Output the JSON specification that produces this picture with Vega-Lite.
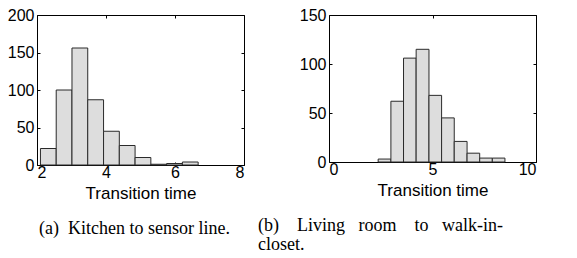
{
  "$schema": "https://vega.github.io/schema/vega-lite/v6.json",
  "background": "white",
  "padding": {"left": 6, "top": 6, "right": 0, "bottom": 0},
  "spacing": 12,
  "config": {
    "view": {"stroke": "black", "strokeWidth": 1},
    "axis": {
      "labelFont": "Liberation Sans",
      "labelFontSize": 16,
      "labelColor": "black",
      "titleFont": "Liberation Sans",
      "titleFontSize": 17,
      "titleFontWeight": "normal",
      "titleColor": "black",
      "domain": false,
      "grid": false,
      "tickColor": "black",
      "tickSize": -3
    },
    "axisX": {"labelPadding": 2},
    "axisY": {"labelPadding": 6},
    "title": {
      "font": "Liberation Serif",
      "fontSize": 18,
      "fontWeight": "normal",
      "color": "black",
      "anchor": "start",
      "frame": "group",
      "orient": "bottom",
      "baseline": "top",
      "lineHeight": 19
    }
  },
  "hconcat": [
    {
      "width": 207,
      "height": 150,
      "title": {"text": "(a)\u00a0 Kitchen to sensor line.", "offset": 19, "dx": 2},
      "data": {"values": [
        {"start": 2.1, "end": 2.557, "count": 22},
        {"start": 2.557, "end": 3.014, "count": 100},
        {"start": 3.014, "end": 3.471, "count": 156},
        {"start": 3.471, "end": 3.929, "count": 87},
        {"start": 3.929, "end": 4.386, "count": 45},
        {"start": 4.386, "end": 4.843, "count": 26},
        {"start": 4.843, "end": 5.3, "count": 10},
        {"start": 5.3, "end": 5.757, "count": 1},
        {"start": 5.757, "end": 6.214, "count": 2},
        {"start": 6.214, "end": 6.671, "count": 4}
      ]},
      "resolve": {"axis": {"x": "independent", "y": "independent"}},
      "layer": [
        {
          "mark": {"type": "bar", "fill": "#dddddd", "stroke": "#2a2a2a", "strokeWidth": 1},
          "encoding": {
            "x": {"field": "start", "type": "quantitative", "scale": {"domain": [2, 8], "nice": false},
                  "axis": {"orient": "bottom", "values": [2, 4, 6, 8], "title": "Transition time", "titlePadding": 5}},
            "x2": {"field": "end"},
            "y": {"field": "count", "type": "quantitative", "scale": {"domain": [0, 200], "nice": false},
                  "axis": {"orient": "left", "values": [0, 50, 100, 150, 200], "title": null}},
            "y2": {"datum": 0}
          }
        },
        {
          "mark": {"type": "bar", "opacity": 0},
          "encoding": {
            "x": {"field": "start", "type": "quantitative",
                  "axis": {"orient": "top", "values": [2, 4, 6, 8], "labels": false, "title": null}},
            "x2": {"field": "end"},
            "y": {"field": "count", "type": "quantitative",
                  "axis": {"orient": "right", "values": [0, 50, 100, 150, 200], "labels": false, "title": null}},
            "y2": {"datum": 0}
          }
        }
      ]
    },
    {
      "width": 207,
      "height": 147,
      "title": {"text": ["(b)\u00a0\u00a0\u00a0 Living\u00a0\u00a0 room\u00a0\u00a0\u00a0 to\u00a0\u00a0 walk-in-", "closet."], "offset": 19, "dx": -71},
      "data": {"values": [
        {"start": 2.375, "end": 2.99, "count": 3},
        {"start": 2.99, "end": 3.6, "count": 62},
        {"start": 3.6, "end": 4.21, "count": 106},
        {"start": 4.21, "end": 4.83, "count": 115},
        {"start": 4.83, "end": 5.44, "count": 68},
        {"start": 5.44, "end": 6.05, "count": 45},
        {"start": 6.05, "end": 6.67, "count": 21},
        {"start": 6.67, "end": 7.28, "count": 9},
        {"start": 7.28, "end": 7.89, "count": 4},
        {"start": 7.89, "end": 8.5, "count": 4}
      ]},
      "resolve": {"axis": {"x": "independent", "y": "independent"}},
      "layer": [
        {
          "mark": {"type": "bar", "fill": "#dddddd", "stroke": "#2a2a2a", "strokeWidth": 1},
          "encoding": {
            "x": {"field": "start", "type": "quantitative", "scale": {"domain": [0, 10], "nice": false},
                  "axis": {"orient": "bottom", "values": [0, 5, 10], "title": "Transition time", "titlePadding": 5}},
            "x2": {"field": "end"},
            "y": {"field": "count", "type": "quantitative", "scale": {"domain": [0, 150], "nice": false},
                  "axis": {"orient": "left", "values": [0, 50, 100, 150], "title": null}},
            "y2": {"datum": 0}
          }
        },
        {
          "mark": {"type": "bar", "opacity": 0},
          "encoding": {
            "x": {"field": "start", "type": "quantitative",
                  "axis": {"orient": "top", "values": [0, 5, 10], "labels": false, "title": null}},
            "x2": {"field": "end"},
            "y": {"field": "count", "type": "quantitative",
                  "axis": {"orient": "right", "values": [0, 50, 100, 150], "labels": false, "title": null}},
            "y2": {"datum": 0}
          }
        }
      ]
    }
  ]
}
